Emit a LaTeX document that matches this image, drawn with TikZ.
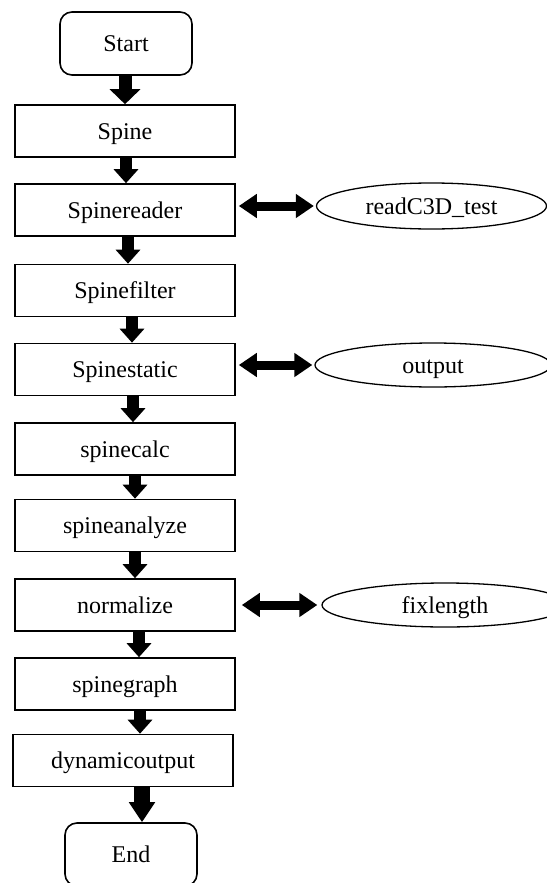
\documentclass[tikz,border=0pt]{standalone}
\usepackage{fontspec}
\setmainfont{Liberation Serif}
\usetikzlibrary{shapes.geometric,arrows.meta}
\begin{document}
\begin{tikzpicture}[x=1pt,y=-1pt,
  every node/.style={font=\fontsize{24}{28}\selectfont, text height=16pt, text depth=0pt},
  procbox/.style={draw, line width=1.6pt, minimum width=220pt, minimum height=52pt, inner sep=0pt},
  termbox/.style={draw, line width=1.6pt, rounded corners=12pt, minimum width=132pt, minimum height=63pt, inner sep=0pt},
  datanode/.style={draw, ellipse, line width=1.3pt, inner sep=0pt},
  downarrow/.style={line width=12pt, -{Triangle[width=24pt,length=14pt]}},
  bigdown/.style={line width=13pt, -{Triangle[width=30pt,length=15pt]}},
  enddown/.style={line width=16pt, -{Triangle[width=25pt,length=20pt]}},
  bothways/.style={line width=9pt, {Triangle[width=23pt,length=18pt]}-{Triangle[width=23pt,length=18pt]}}
]
\useasboundingbox (0,0) rectangle (546,883);
\fill[white] (0,0) rectangle (546,883);

% main column
\node[termbox] (start) at (126,43.5) {Start};
\node[procbox] (spine) at (125,131) {Spine};
\node[procbox] (reader) at (125,210) {Spinereader};
\node[procbox] (filter) at (125,290.5) {Spinefilter};
\node[procbox] (static) at (125,369.5) {Spinestatic};
\node[procbox] (calc) at (125,449) {spinecalc};
\node[procbox] (analyze) at (125,525.5) {spineanalyze};
\node[procbox] (normalize) at (125,605) {normalize};
\node[procbox] (graph) at (125,684) {spinegraph};
\node[procbox] (dynout) at (123,760.5) {dynamicoutput};
\node[termbox] (endn) at (131,854.5) {End};

% side data
\node[datanode, minimum width=230pt, minimum height=46pt] (readc3d) at (431.5,206) {readC3D\_test};
\node[datanode, minimum width=236pt, minimum height=44pt] (output) at (433,365) {output};
\node[datanode, minimum width=246pt, minimum height=44pt] (fixlength) at (445,605) {fixlength};

% vertical flow
\draw[bigdown] ([xshift=-1pt]start.south) -- ([xshift=0pt]spine.north);
\draw[downarrow] ([xshift=1pt]spine.south) -- ([xshift=1pt]reader.north);
\draw[downarrow] ([xshift=3pt]reader.south) -- ([xshift=3pt]filter.north);
\draw[downarrow] ([xshift=7pt]filter.south) -- ([xshift=7pt]static.north);
\draw[downarrow] ([xshift=8pt]static.south) -- ([xshift=8pt]calc.north);
\draw[downarrow] ([xshift=10pt]calc.south) -- ([xshift=10pt]analyze.north);
\draw[downarrow] ([xshift=10pt]analyze.south) -- ([xshift=10pt]normalize.north);
\draw[downarrow] ([xshift=14pt]normalize.south) -- ([xshift=14pt]graph.north);
\draw[downarrow] ([xshift=15pt]graph.south) -- ([xshift=17pt]dynout.north);
\draw[enddown] ([xshift=19pt]dynout.south) -- ([xshift=11pt]endn.north);

% side links
\coordinate (r1) at (reader.east |- readc3d.west);
\coordinate (s1) at (static.east |- output.west);
\coordinate (n1) at (normalize.east |- fixlength.west);
\draw[bothways] ([xshift=3pt]r1) -- ([xshift=-2pt]readc3d.west);
\draw[bothways] ([xshift=3pt]s1) -- ([xshift=-2pt]output.west);
\draw[bothways] ([xshift=6pt]n1) -- ([xshift=-4pt]fixlength.west);
\end{tikzpicture}
\end{document}
